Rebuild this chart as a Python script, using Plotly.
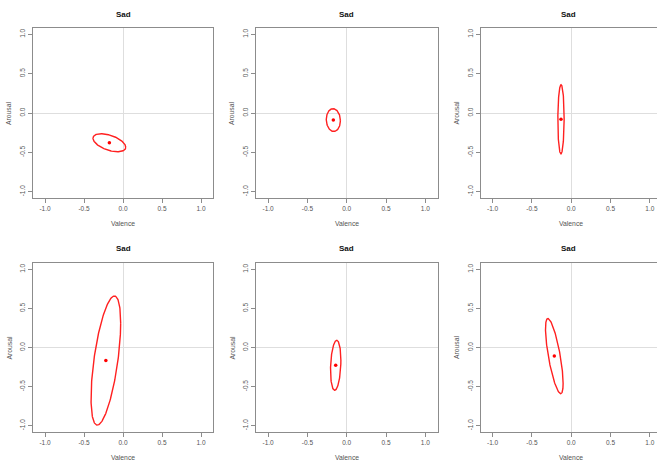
import numpy as np
import plotly.graph_objects as go

# ---- data ----
panel_titles = ["Sad", "Sad", "Sad", "Sad", "Sad", "Sad"]
valence_mean = [-0.175, -0.17, -0.13, -0.22, -0.14, -0.215]
arousal_mean = [-0.378, -0.09, -0.08, -0.167, -0.228, -0.11]
valence_radius = [0.21, 0.09, 0.04, 0.19, 0.066, 0.112]
arousal_radius = [0.115, 0.145, 0.44, 0.825, 0.32, 0.48]
correlation = [-0.5, -0.05, 0.03, 0.58, 0.2, -0.73]
tick_values = [-1.0, -0.5, 0.0, 0.5, 1.0]
tick_labels = ["-1.0", "-0.5", "0.0", "0.5", "1.0"]
x_label = "Valence"
y_label = "Arousal"

W, H = 657, 462
# pixel layout of the plot boxes
col_px = [(33, 213), (256, 437.5), (480.5, 657)]
row_px = [(28, 198), (263, 432)]
x_lo = -1.154
px_per_unit = 78.6

fig = go.Figure()
font = "Liberation Sans, Arial, sans-serif"
line_col = "#8c8c8c"
text_col = "#555555"

t = np.linspace(0, 2 * np.pi, 241)
annotations = []
for i in range(6):
    r, c = divmod(i, 3)
    n = i + 1
    xa = "x" if n == 1 else f"x{n}"
    ya = "y" if n == 1 else f"y{n}"
    cx, cy = valence_mean[i], arousal_mean[i]
    hx, hy, rho = valence_radius[i], arousal_radius[i], correlation[i]
    ex = cx + hx * np.cos(t)
    ey = cy + hy * (rho * np.cos(t) + np.sqrt(1 - rho ** 2) * np.sin(t))
    fig.add_trace(go.Scatter(x=ex, y=ey, mode="lines",
                             line=dict(color="#ff2020", width=1.4),
                             xaxis=xa, yaxis=ya, showlegend=False, hoverinfo="skip"))
    fig.add_trace(go.Scatter(x=[cx], y=[cy], mode="markers",
                             marker=dict(color="#ff0000", size=3.5),
                             xaxis=xa, yaxis=ya, showlegend=False))

    x0, x1 = col_px[c]
    y0, y1 = row_px[r]
    x_hi = x_lo + (x1 - x0) / (78.0 if c == 0 else px_per_unit)
    xkey = "xaxis" if n == 1 else f"xaxis{n}"
    ykey = "yaxis" if n == 1 else f"yaxis{n}"
    common = dict(showline=True, linecolor=line_col, linewidth=1,
                  ticks="outside", ticklen=4, tickcolor=line_col, tickwidth=1,
                  tickvals=tick_values, ticktext=tick_labels,
                  tickfont=dict(family=font, size=6.5, color=text_col),
                  showgrid=False, zeroline=True, zerolinecolor="#dedede",
                  zerolinewidth=1, fixedrange=True)
    fig.update_layout({
        xkey: dict(domain=[x0 / W, x1 / W], range=[x_lo, x_hi], anchor=ya,
                   mirror=True, **common),
        ykey: dict(domain=[1 - y1 / H, 1 - y0 / H], range=[-1.08, 1.08], anchor=xa,
                   mirror=(c != 2), tickangle=-90, **common),
    })
    annotations.append(dict(text=f"<b>{panel_titles[i]}</b>", xref=f"{xa} domain", yref=f"{ya} domain",
                            x=0.5, y=1, yshift=13.5 if r == 0 else 14.5, showarrow=False,
                            xanchor="center", yanchor="middle",
                            font=dict(family=font, size=8, color="#111111")))
    annotations.append(dict(text=x_label, xref=f"{xa} domain", yref=f"{ya} domain",
                            x=(123.3 - x0) / (x1 - x0) if c == 0 else (-x_lo * px_per_unit) / (x1 - x0),
                            y=0, yshift=-25, showarrow=False, xanchor="center", yanchor="middle",
                            font=dict(family=font, size=6.8, color=text_col)))
    annotations.append(dict(text=y_label, xref=f"{xa} domain", yref=f"{ya} domain",
                            x=0, xshift=-24, y=0.5, textangle=-90, showarrow=False,
                            xanchor="center", yanchor="middle",
                            font=dict(family=font, size=6.8, color=text_col)))

fig.update_layout(width=W, height=H, margin=dict(l=0, r=0, t=0, b=0),
                  plot_bgcolor="white", paper_bgcolor="white",
                  annotations=annotations)
fig.write_html("out.html", config={"displayModeBar": False},
               post_script="document.body.style.margin='0';")
